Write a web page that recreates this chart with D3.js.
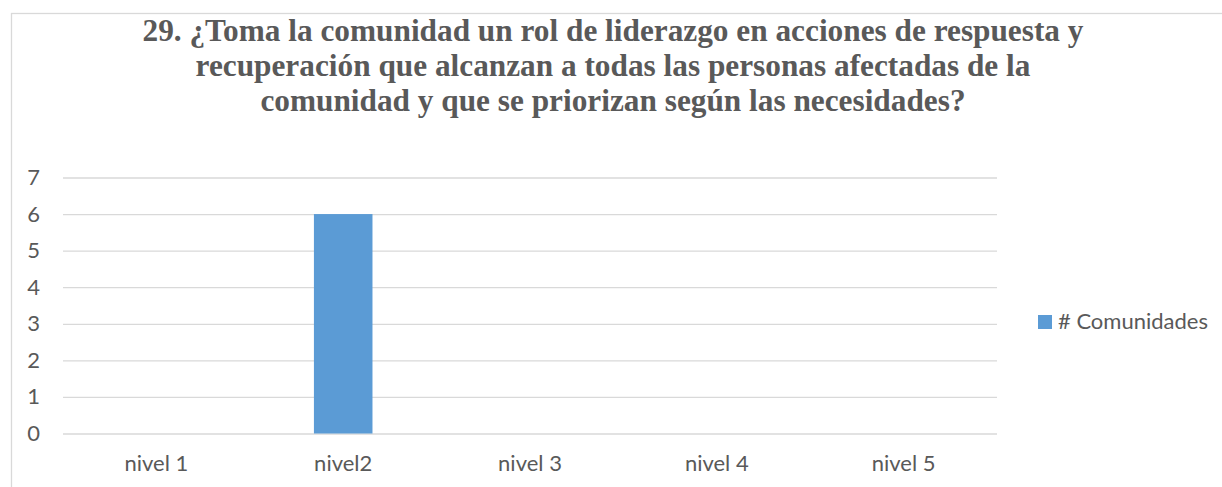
<!DOCTYPE html>
<html>
<head>
<meta charset="utf-8">
<script src="https://cdn.jsdelivr.net/npm/d3@7"></script>
<style>
  body { margin: 0; background: #fff; }
  svg { display: block; }
  .titulo { font-family: "Liberation Serif", "Times New Roman", serif; font-weight: bold; }
</style>
</head>
<body>
<div class="container"></div>
<script>
// datos del grafico
const categorias = ["nivel 1", "nivel2", "nivel 3", "nivel 4", "nivel 5"]
const valores = [0, 6, 0, 0, 0]
const yTicks = [0, 1, 2, 3, 4, 5, 6, 7]
const serie = "# Comunidades"
const tituloLineas = [
    "29. ¿Toma la comunidad un rol de liderazgo en acciones de respuesta y",
    "recuperación que alcanzan a todas las personas afectadas de la",
    "comunidad y que se priorizan según las necesidades?"
]

const width = 1222
const height = 487
const margin = { top: 177.5, bottom: 53.5, left: 63, right: 225 }

const svg = d3.select(".container").append("svg").attr("width", width).attr("height", height)

// marco del grafico
svg.append("rect")
    .attr("x", 11.5).attr("y", 13.5)
    .attr("width", width + 20).attr("height", height + 20)
    .attr("fill", "none").attr("stroke", "#d9d9d9").attr("stroke-width", 1.3)

// escalas
const x = d3.scaleBand().domain(categorias).range([margin.left, width - margin.right]).paddingInner(0).paddingOuter(0)
const y = d3.scaleLinear().domain([0, 7]).range([height - margin.bottom, margin.top])

// lineas de cuadricula
const yAxis = d3.axisLeft(y).tickValues(yTicks).tickSize(-(width - margin.right - margin.left)).tickPadding(23).tickFormat(d3.format("d"))
const yAxisGroup = svg.append("g").attr("transform", `translate(${margin.left},0)`).call(yAxis)
yAxisGroup.select(".domain").remove()
yAxisGroup.selectAll(".tick line").attr("stroke", "#d9d9d9").attr("stroke-width", 1.3)
yAxisGroup.selectAll(".tick text")
    .attr("fill", "#595959").style("font-family", "Lato, sans-serif").style("font-size", "22px")

const xAxis = d3.axisBottom(x).tickSize(0).tickPadding(22)
const xAxisGroup = svg.append("g").attr("transform", `translate(0,${height - margin.bottom})`).call(xAxis)
xAxisGroup.select(".domain").remove()
xAxisGroup.selectAll(".tick text")
    .attr("fill", "#595959").style("font-family", "Lato, sans-serif").style("font-size", "22px")

// barras
const barW = x.bandwidth() / 3.19
svg.append("g").selectAll("rect").data(valores)
    .join("rect")
    .attr("x", (d, i) => x(categorias[i]) + (x.bandwidth() - barW) / 2)
    .attr("y", d => y(d))
    .attr("width", barW)
    .attr("height", d => y(0) - y(d))
    .attr("fill", "#5b9bd5")

// titulo
svg.append("text")
    .attr("class", "titulo")
    .attr("x", 613).attr("y", 41)
    .attr("text-anchor", "middle")
    .attr("fill", "#595959")
    .attr("font-size", 31.3)
    .selectAll("tspan").data(tituloLineas)
    .join("tspan")
    .attr("x", 613)
    .attr("dy", (d, i) => i === 0 ? 0 : 35)
    .text(d => d)

// leyenda
const legend = svg.append("g").attr("transform", "translate(1038,315)")
legend.append("rect").attr("width", 14).attr("height", 14).attr("fill", "#5b9bd5")
legend.append("text")
    .attr("x", 20).attr("y", 14)
    .attr("fill", "#595959")
    .style("font-family", "Lato, sans-serif").style("font-size", "22px")
    .text(serie)
</script>
</body>
</html>
